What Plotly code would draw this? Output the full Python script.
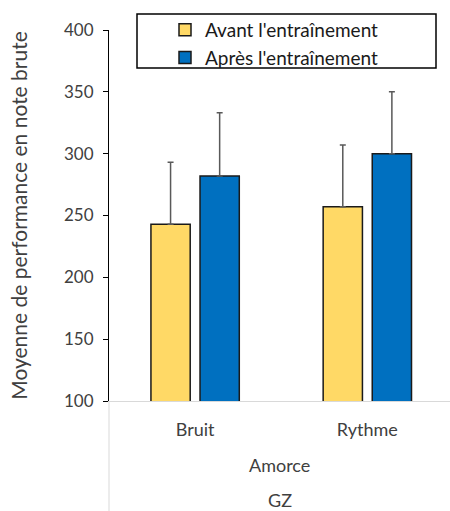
import plotly.graph_objects as go

categories = ["Bruit", "Rythme"]
avant = [243, 257]
avant_err = [50, 50]
apres = [282, 300]
apres_err = [51, 50]
series_names = ["Avant l'entraînement", "Après l'entraînement"]
level2_label = "Amorce"
level3_label = "GZ"

FONT = "Lato"
TXT = "#404040"

fig = go.Figure()

for name, vals, errs, color in [
    (series_names[0], avant, avant_err, "#FFD966"),
    (series_names[1], apres, apres_err, "#0070C0"),
]:
    fig.add_trace(
        go.Bar(
            x=categories,
            y=vals,
            name=name,
            marker=dict(color=color, line=dict(color="#1a1a1a", width=1.5)),
            error_y=dict(
                type="data",
                symmetric=False,
                array=errs,
                arrayminus=[0] * len(errs),
                color="#595959",
                thickness=1.5,
                width=3,
            ),
        )
    )

fig.update_layout(
    width=450,
    height=511,
    margin=dict(l=109, r=0, t=30, b=110),
    plot_bgcolor="white",
    paper_bgcolor="white",
    barmode="group",
    bargap=0.43,
    bargroupgap=0.2,
    font=dict(family=FONT, size=17, color=TXT),
    showlegend=True,
    legend=dict(
        x=(165 - 109) / 341,
        y=1 + 19 / 371,
        xanchor="left",
        yanchor="top",
        font=dict(family=FONT, size=19, color="#1a1a1a"),
        bgcolor="rgba(0,0,0,0)",
        borderwidth=0,
        tracegroupgap=0,
    ),
)

fig.update_yaxes(
    range=[100, 400],
    tickvals=[100, 150, 200, 250, 300, 350, 400],
    showgrid=False,
    zeroline=False,
    showline=True,
    linecolor="black",
    linewidth=1,
    ticks="outside",
    ticklen=5,
    tickcolor="black",
    ticklabelstandoff=6,
    tickfont=dict(size=17, color=TXT),
    title=dict(
        text="Moyenne de performance en note brute",
        font=dict(size=21, color=TXT),
        standoff=30,
    ),
)

fig.update_xaxes(
    range=[-0.5, 1.48],
    showgrid=False,
    showline=True,
    linecolor="#D9D9D9",
    linewidth=1,
    ticks="outside",
    ticklen=12,
    tickcolor="rgba(0,0,0,0)",
    tickfont=dict(size=18, color=TXT),
)

# legend frame
fig.add_shape(
    type="rect",
    xref="paper", yref="paper",
    x0=(137 - 109) / 341, x1=(436 - 109) / 341,
    y0=1 + (30 - 68) / 371, y1=1 + (30 - 14) / 371,
    line=dict(color="black", width=1.5),
    fillcolor="rgba(0,0,0,0)",
    layer="above",
)

# left separator of the multi-level category axis
fig.add_shape(
    type="line",
    xref="paper", yref="paper",
    x0=0, x1=0, y0=0, y1=-110 / 371,
    line=dict(color="#D9D9D9", width=1),
)

for label, ypos in [(level2_label, -64 / 371), (level3_label, -99 / 371)]:
    fig.add_annotation(
        text=label,
        xref="paper", yref="paper",
        x=0.5, y=ypos,
        showarrow=False,
        font=dict(family=FONT, size=18, color=TXT),
        yanchor="middle",
    )

fig.write_html(
    "out.html",
    config={"displayModeBar": False},
    post_script="document.body.style.margin='0';",
)
